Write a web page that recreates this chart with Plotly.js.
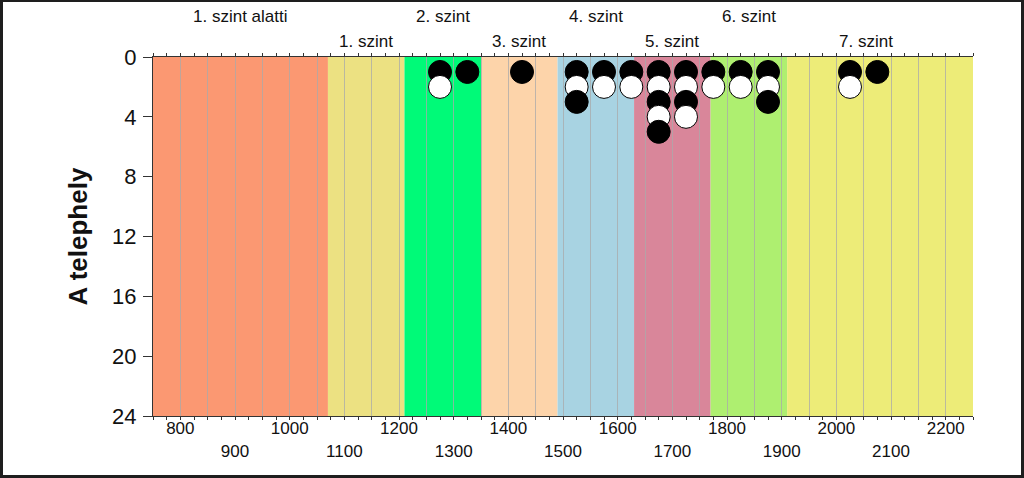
<!DOCTYPE html>
<html>
<head>
<meta charset="utf-8">
<script src="https://cdn.plot.ly/plotly-3.0.1.min.js"></script>
<style>
  html, body { margin: 0; padding: 0; background: #fff; }
  #wrap { position: relative; width: 1024px; height: 478px; }
  #plot { position: absolute; left: 0; top: 0; width: 1024px; height: 478px; }
  #frame { position: absolute; left: 0; top: 0; width: 1024px; height: 478px;
           box-sizing: border-box; border-style: solid; border-color: #1e1e1e;
           border-width: 2px 3px 3px 3px; pointer-events: none; z-index: 10; }
</style>
</head>
<body>
<div id="wrap"><div id="plot"></div><div id="frame"></div></div>
<script>
// ---- data ----
const levelNames  = ['1. szint alatti', '1. szint', '2. szint', '3. szint', '4. szint', '5. szint', '6. szint', '7. szint'];
const levelEdges  = [750, 1070, 1210, 1350, 1490, 1630, 1770, 1910, 2200];
const levelColors = ['#FB9872', '#ECE182', '#00FA78', '#FDD4AA', '#A8D3E2', '#D9869A', '#AEEF70', '#EDEC78'];

const binCenters = [1275, 1325, 1425, 1525, 1575, 1625, 1675, 1725, 1775, 1825, 1875, 2025, 2075];
const binCounts  = [2,    1,    1,    3,    2,    2,    5,    4,    2,    2,    3,    2,    1];

const xTickValues = [800, 900, 1000, 1100, 1200, 1300, 1400, 1500, 1600, 1700, 1800, 1900, 2000, 2100, 2200];
const xTickLabels = ['800', '900', '1000', '1100', '1200', '1300', '1400', '1500', '1600', '1700', '1800', '1900', '2000', '2100', '2200'];
const yTickValues = [0, 4, 8, 12, 16, 20, 24];

const xRange = [750, 2250];
const xGridStep = 50;
const yRange = [24, 0];

// ---- build dots (stacked per bin, top to bottom) ----
const dotX = [], dotY = [], dotFill = [];
binCenters.forEach((c, i) => {
  for (let k = 1; k <= binCounts[i]; k++) {
    dotX.push(c);
    dotY.push(k);
    dotFill.push(k % 2 === 1 ? '#000000' : '#ffffff');
  }
});

// axis grid positions (every 50) with labels only at the hundreds, alternating rows
const gridVals = [], gridText = [];
for (let v = xRange[0]; v <= xRange[1]; v += xGridStep) {
  gridVals.push(v);
  const j = xTickValues.indexOf(v);
  gridText.push(j < 0 ? '' : (j % 2 === 0 ? xTickLabels[j] : '<br>' + xTickLabels[j]));
}

const FONT = '"Liberation Sans", Arial, sans-serif';

// ---- bands ----
const shapes = levelNames.map((n, i) => ({
  type: 'rect', layer: 'below', xref: 'x', yref: 'paper',
  x0: levelEdges[i], x1: (i === levelNames.length - 1) ? xRange[1] : levelEdges[i + 1],
  y0: 0, y1: 1, fillcolor: levelColors[i], line: { width: 0 }
}));

const annotations = levelNames.map((n, i) => ({
  text: n, xref: 'x', yref: 'paper',
  x: (levelEdges[i] + levelEdges[i + 1]) / 2, y: 1,
  yanchor: 'middle', xanchor: 'center',
  yshift: (i % 2 === 0) ? 41 : 16,
  showarrow: false, font: { family: FONT, size: 17, color: '#111' }
}));

const trace = {
  type: 'scatter', mode: 'markers',
  x: dotX, y: dotY,
  marker: { size: 23, color: dotFill, line: { color: '#000', width: 1 } },
  hoverinfo: 'x+y', showlegend: false, cliponaxis: false
};

const layout = {
  width: 1024, height: 478,
  margin: { l: 153, r: 51, t: 57, b: 62 },
  paper_bgcolor: '#ffffff', plot_bgcolor: '#ffffff',
  font: { family: FONT, color: '#111' },
  showlegend: false,
  shapes: shapes,
  annotations: annotations,
  xaxis: {
    range: xRange, tickmode: 'array',
    tickvals: gridVals, ticktext: gridText,
    ticks: 'outside', ticklen: 3, tickwidth: 1, tickcolor: '#333',
    minor: { tick0: 750, dtick: 25, ticks: 'outside', ticklen: 3, tickwidth: 1, tickcolor: '#333', showgrid: false },
    mirror: 'ticks',
    showgrid: true, gridcolor: 'rgba(170,170,170,0.75)', gridwidth: 1,
    zeroline: false,
    showline: true, linecolor: '#333', linewidth: 1,
    tickfont: { family: FONT, size: 17, color: '#111' },
    ticklabelstandoff: -6,
    fixedrange: true
  },
  yaxis: {
    range: yRange, tickmode: 'array', tickvals: yTickValues,
    ticks: 'outside', ticklen: 9, tickwidth: 1, tickcolor: '#333',
    showgrid: false, zeroline: false,
    showline: true, linecolor: '#333', linewidth: 1,
    tickfont: { family: FONT, size: 22, color: '#111' },
    ticklabelstandoff: 2,
    title: { text: 'A telephely', font: { family: FONT, size: 26, color: '#111', weight: 'bold' }, standoff: 17 },
    automargin: false,
    fixedrange: true
  }
};

Plotly.newPlot('plot', [trace], layout, { staticPlot: true, displayModeBar: false });
</script>
</body>
</html>
